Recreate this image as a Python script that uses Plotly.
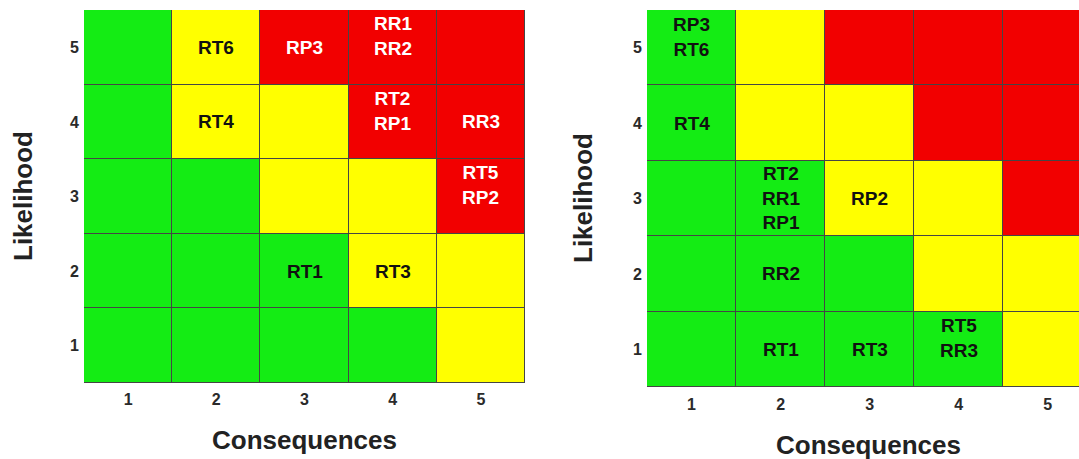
import plotly.graph_objects as go

# ---------------- data ----------------
consequences = [1, 2, 3, 4, 5]
likelihood = [1, 2, 3, 4, 5]
tick_labels = ["1", "2", "3", "4", "5"]

# risk level per cell: rows = likelihood 1..5, cols = consequences 1..5
# 0 = low (green), 1 = medium (yellow), 2 = high (red)
risk_level = [
    [0, 0, 0, 0, 1],
    [0, 0, 0, 1, 1],
    [0, 0, 1, 1, 2],
    [0, 1, 1, 2, 2],
    [0, 1, 2, 2, 2],
]

left_x = [2, 3, 4, 2, 4, 5, 5, 3, 4]
left_y = [5, 5, 5, 4, 4, 4, 3, 2, 2]
left_text = ["RT6", "RP3", "RR1<br>RR2", "RT4", "RT2<br>RP1", "RR3",
             "RT5<br>RP2", "RT1", "RT3"]

right_x = [1, 1, 2, 3, 2, 2, 3, 4]
right_y = [5, 4, 3, 3, 2, 1, 1, 1]
right_text = ["RP3<br>RT6", "RT4", "RT2<br>RR1<br>RP1", "RP2", "RR2",
              "RT1", "RT3", "RT5<br>RR3"]

# ---------------- style ----------------
W, H = 1079, 459
GREEN, YELLOW, RED = "#14EC14", "#FFFF00", "#F20000"
colorscale = [[0, GREEN], [0.333, GREEN], [0.333, YELLOW], [0.667, YELLOW],
              [0.667, RED], [1, RED]]
FONT = "Arial, Liberation Sans, sans-serif"
TXT = "#111111"

fig = go.Figure()
for xa, ya in (("x", "y"), ("x2", "y2")):
    fig.add_trace(go.Heatmap(
        z=risk_level, x=consequences, y=likelihood,
        colorscale=colorscale, zmin=0, zmax=2, showscale=False,
        xgap=1, ygap=1, hoverinfo="skip", xaxis=xa, yaxis=ya))

annotations = []


def add_labels(xs, ys, texts, xref, yref, white_on_red):
    for x, y, t in zip(xs, ys, texts):
        lines = t.count("<br>") + 1
        col = TXT
        if white_on_red and risk_level[y - 1][x - 1] == 2:
            col = "white"
        annotations.append(dict(
            x=x, y=y, xref=xref, yref=yref, text=t, showarrow=False,
            yshift=11 if lines == 2 else 0,
            font=dict(family=FONT, size=19, color=col, weight="bold")))


add_labels(left_x, left_y, left_text, "x", "y", True)
add_labels(right_x, right_y, right_text, "x2", "y2", False)

title_font = dict(family=FONT, size=26, color="#222222", weight="bold")
annotations += [
    dict(text="Consequences", x=304 / W, y=1 - 440 / H, xref="paper", yref="paper",
         showarrow=False, font=title_font, xanchor="center", yanchor="middle"),
    dict(text="Consequences", x=868 / W, y=1 - 445 / H, xref="paper", yref="paper",
         showarrow=False, font=title_font, xanchor="center", yanchor="middle"),
    dict(text="Likelihood", x=23 / W, y=1 - 196 / H, xref="paper", yref="paper",
         showarrow=False, font=title_font, textangle=-90,
         xanchor="center", yanchor="middle"),
    dict(text="Likelihood", x=583 / W, y=1 - 198 / H, xref="paper", yref="paper",
         showarrow=False, font=title_font, textangle=-90,
         xanchor="center", yanchor="middle"),
]

tick_font = dict(family=FONT, size=16, color="#2a2a2a", weight="bold")
ax_common = dict(tickvals=consequences, ticktext=tick_labels, showgrid=False,
                 zeroline=False, ticks="", showline=False, tickfont=tick_font,
                 fixedrange=True)

fig.update_layout(
    width=W, height=H, margin=dict(l=0, r=0, t=0, b=0),
    paper_bgcolor="white", plot_bgcolor="#454545",
    showlegend=False, annotations=annotations,
    xaxis=dict(domain=[84 / W, 525 / W], range=[0.5, 5.5], anchor="y",
               ticklabelstandoff=5, **ax_common),
    yaxis=dict(domain=[1 - 383 / H, 1 - 10 / H], range=[0.5, 5.5], anchor="x",
               ticklabelstandoff=4, **ax_common),
    xaxis2=dict(domain=[647 / W, 1.0], range=[0.5, 5.35], anchor="y2",
                ticklabelstandoff=6, **ax_common),
    yaxis2=dict(domain=[1 - 387 / H, 1 - 10 / H], range=[0.5, 5.5], anchor="x2",
                ticklabelstandoff=4, **ax_common),
)

fig.write_html(
    "out.html",
    config={"displayModeBar": False},
    post_script="document.body.style.margin='0';document.body.style.overflow='hidden';",
)
